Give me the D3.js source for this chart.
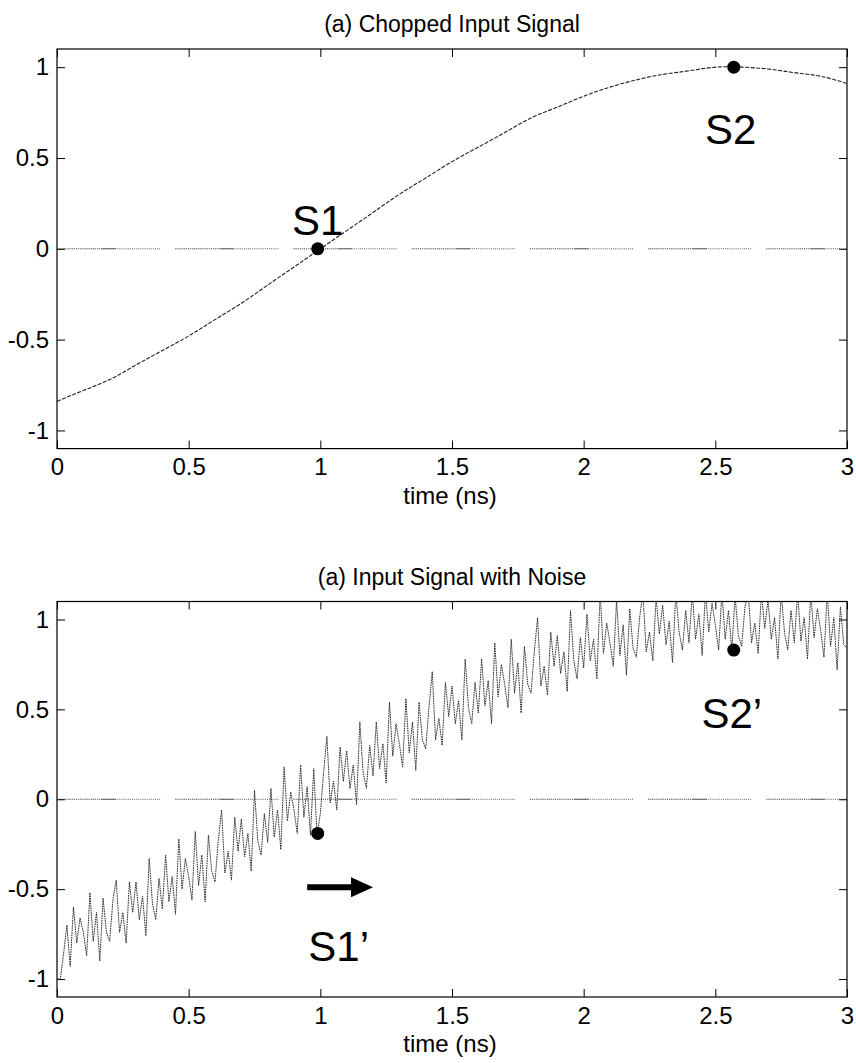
<!DOCTYPE html>
<html>
<head>
<meta charset="utf-8">
<script src="https://cdn.jsdelivr.net/npm/d3@7"></script>
<style>
  body { margin: 0; background: #fff; }
  text { font-family: "Liberation Sans", Arial, Helvetica, sans-serif; fill: #000; }
</style>
</head>
<body>
<svg id="chart" width="856" height="1063"></svg>
<script>
// ---- data ----
const xTicks = [0, 0.5, 1, 1.5, 2, 2.5, 3];
const xTickLabels = ["0", "0.5", "1", "1.5", "2", "2.5", "3"];
const yTicks = [-1, -0.5, 0, 0.5, 1];
const yTickLabels = ["-1", "-0.5", "0", "0.5", "1"];
const titles = ["(a) Chopped Input Signal", "(a) Input Signal with Noise"];
const xLabel = "time (ns)";

// chopped (clean) input signal
const cleanTime = [0, 0.1, 0.2, 0.3, 0.4, 0.5, 0.6, 0.7, 0.8, 0.9, 1.0,
                   1.1, 1.2, 1.3, 1.4, 1.5, 1.6, 1.7, 1.8, 1.9, 2.0,
                   2.1, 2.2, 2.3, 2.4, 2.5, 2.6, 2.7, 2.8, 2.9, 3.0];
const cleanSignal = [-0.84, -0.78, -0.72, -0.64, -0.56, -0.48, -0.39, -0.30, -0.20, -0.10, 0.00,
                     0.10, 0.20, 0.30, 0.39, 0.48, 0.56, 0.64, 0.72, 0.78, 0.84,
                     0.89, 0.93, 0.96, 0.98, 1.00, 1.00, 0.99, 0.97, 0.95, 0.91];

// noisy input signal, sampled every 0.0125 ns from 0 to 3 ns
const noiseStep = 0.0125;
const noisySignal = [
  -1.00, -1.00, -0.86, -0.70, -0.93, -0.60, -0.80, -0.66,
  -0.74, -0.87, -0.52, -0.79, -0.63, -0.90, -0.55, -0.74,
  -0.79, -0.56, -0.45, -0.74, -0.63, -0.80, -0.46, -0.63,
  -0.46, -0.67, -0.54, -0.76, -0.33, -0.58, -0.67, -0.44,
  -0.61, -0.31, -0.57, -0.43, -0.64, -0.22, -0.50, -0.33,
  -0.43, -0.56, -0.18, -0.48, -0.31, -0.57, -0.20, -0.40,
  -0.46, -0.23, -0.06, -0.41, -0.29, -0.45, -0.10, -0.29,
  -0.11, -0.32, -0.19, -0.40, 0.05, -0.23, -0.31, -0.08,
  -0.24, 0.06, -0.21, -0.06, -0.28, 0.18, -0.12, 0.04,
  -0.06, -0.19, 0.19, -0.10, 0.07, -0.20, 0.17, -0.20,
  -0.08, 0.15, 0.35, -0.02, 0.10, -0.06, 0.29, 0.10,
  0.27, 0.06, 0.19, -0.03, 0.43, 0.15, 0.06, 0.30,
  0.13, 0.43, 0.17, 0.31, 0.09, 0.54, 0.24, 0.42,
  0.31, 0.18, 0.56, 0.26, 0.43, 0.16, 0.54, 0.33,
  0.28, 0.51, 0.71, 0.33, 0.45, 0.30, 0.65, 0.46,
  0.63, 0.42, 0.55, 0.33, 0.78, 0.51, 0.42, 0.65,
  0.48, 0.78, 0.52, 0.66, 0.42, 0.87, 0.57, 0.75,
  0.64, 0.51, 0.89, 0.59, 0.76, 0.48, 0.85, 0.64,
  0.59, 0.82, 1.01, 0.63, 0.74, 0.58, 0.93, 0.74,
  0.91, 0.70, 0.82, 0.60, 1.05, 0.77, 0.67, 0.90,
  0.73, 1.03, 0.77, 0.89, 0.67, 1.15, 0.81, 0.98,
  0.87, 0.74, 1.11, 0.80, 0.97, 0.69, 1.06, 0.84,
  0.79, 1.01, 1.15, 0.82, 0.93, 0.77, 1.12, 0.92,
  1.08, 0.86, 0.99, 0.76, 1.15, 0.93, 0.83, 1.05,
  0.87, 1.15, 0.89, 1.03, 0.80, 1.15, 0.93, 1.09,
  0.97, 0.83, 1.15, 0.89, 1.05, 0.83, 1.13, 0.91,
  0.85, 1.07, 1.15, 0.87, 0.98, 0.81, 1.15, 0.95,
  1.11, 0.89, 1.01, 0.78, 1.15, 0.93, 0.83, 1.05,
  0.87, 1.15, 0.88, 1.01, 0.78, 1.15, 0.90, 1.06,
  0.94, 0.79, 1.15, 0.85, 1.01, 0.72, 1.07, 0.86,
  0.84
];

// marked samples
const cleanMarkNames = ["S1", "S2"];
const cleanMarkTime = [0.99, 2.57];
const cleanMarkValue = [0.00, 1.00];
const noisyMarkNames = ["S1\u2019", "S2\u2019"];
const noisyMarkTime = [0.99, 2.57];
const noisyMarkValue = [-0.19, 0.83];

// arrow under S1'
const arrowTime = [0.95, 1.20];
const arrowValue = -0.49;

// ---- layout ----
const svg = d3.select("#chart");
const left = 57, right = 847;
const panels = [
  { top: 49,  bottom: 448.6 },
  { top: 601.5, bottom: 997 }
];
const tickLen = 8;
const fontTick = 24;

// dotted dashes for the zero line: 21 dots, then a gap
const zeroDash = d3.range(21).map(() => "1.2,0.9").join(",") + ",15";

const x = d3.scaleLinear().domain([0, 3]).range([left, right]);

function drawPanel(p, i) {
  const y = d3.scaleLinear().domain([-1.1, 1.1]).range([p.bottom, p.top]);
  const g = svg.append("g");

  const clipId = "clip" + i;
  svg.append("clipPath").attr("id", clipId)
    .append("rect").attr("x", left).attr("y", p.top)
    .attr("width", right - left).attr("height", p.bottom - p.top);

  // zero reference line
  g.append("line")
    .attr("x1", x(0)).attr("x2", x(3))
    .attr("y1", y(0)).attr("y2", y(0))
    .attr("stroke", "#333").attr("stroke-width", 0.9)
    .attr("stroke-dasharray", zeroDash);

  // axes (inward ticks on every side, MATLAB box style)
  const axB = d3.axisBottom(x).tickValues(xTicks).tickSizeInner(-tickLen).tickSizeOuter(0)
    .tickFormat((d, k) => xTickLabels[k]);
  const axT = d3.axisTop(x).tickValues(xTicks).tickSizeInner(-tickLen).tickSizeOuter(0).tickFormat("");
  const axL = d3.axisLeft(y).tickValues(yTicks).tickSizeInner(-tickLen).tickSizeOuter(0)
    .tickFormat((d, k) => yTickLabels[k]).tickPadding(8);
  const axR = d3.axisRight(y).tickValues(yTicks).tickSizeInner(-tickLen).tickSizeOuter(0).tickFormat("");

  const gb = g.append("g").attr("transform", `translate(0,${p.bottom})`).call(axB);
  g.append("g").attr("transform", `translate(0,${p.top})`).call(axT);
  const gl = g.append("g").attr("transform", `translate(${left},0)`).call(axL);
  g.append("g").attr("transform", `translate(${right},0)`).call(axR);

  g.selectAll(".domain").remove();
  g.selectAll(".tick line").attr("stroke", "#000").attr("stroke-width", 1);
  gb.selectAll(".tick text").attr("font-size", fontTick).attr("y", 26.5).attr("dy", 0)
    .style("font-family", "'Liberation Sans', Arial, sans-serif");
  gl.selectAll(".tick text").attr("font-size", fontTick)
    .style("font-family", "'Liberation Sans', Arial, sans-serif");

  g.append("rect")
    .attr("x", left).attr("y", p.top)
    .attr("width", right - left).attr("height", p.bottom - p.top)
    .attr("fill", "none").attr("stroke", "#000").attr("stroke-width", 1.2);

  // title and axis label
  svg.append("text")
    .attr("x", (left + right) / 2).attr("y", p.top - 17)
    .attr("text-anchor", "middle").attr("font-size", 23)
    .text(titles[i]);
  svg.append("text")
    .attr("x", (left + right) / 2 - 2).attr("y", p.bottom + 55)
    .attr("text-anchor", "middle").attr("font-size", 24)
    .text(xLabel);

  return { g, y, clipId };
}

// ---- panel 1: chopped input ----
{
  const { g, y, clipId } = drawPanel(panels[0], 0);
  const line = d3.line().x((d, k) => x(cleanTime[k])).y(d => y(d)).curve(d3.curveNatural);
  g.append("path").datum(cleanSignal)
    .attr("clip-path", `url(#${clipId})`)
    .attr("d", line)
    .attr("fill", "none").attr("stroke", "#222").attr("stroke-width", 1.1)
    .attr("stroke-dasharray", "4,1.5");

  g.selectAll("circle.mark").data(cleanMarkNames).enter().append("circle")
    .attr("cx", (d, k) => x(cleanMarkTime[k]))
    .attr("cy", (d, k) => y(cleanMarkValue[k]))
    .attr("r", 6.5).attr("fill", "#000");

  // S1 above its dot, S2 below its dot
  const labelDx = [0, -3];
  const labelDy = [-14, 77];
  g.selectAll("text.mark").data(cleanMarkNames).enter().append("text")
    .attr("x", (d, k) => x(cleanMarkTime[k]) + labelDx[k])
    .attr("y", (d, k) => y(cleanMarkValue[k]) + labelDy[k])
    .attr("text-anchor", "middle").attr("font-size", 42)
    .text(d => d);
}

// ---- panel 2: input with noise ----
{
  const { g, y, clipId } = drawPanel(panels[1], 1);
  const line = d3.line().x((d, k) => x(k * noiseStep)).y(d => y(d));
  g.append("path").datum(noisySignal)
    .attr("clip-path", `url(#${clipId})`)
    .attr("d", line)
    .attr("fill", "none").attr("stroke", "#222").attr("stroke-width", 0.95)
    .attr("stroke-dasharray", "1.6,0.8");

  g.selectAll("circle.mark").data(noisyMarkNames).enter().append("circle")
    .attr("cx", (d, k) => x(noisyMarkTime[k]))
    .attr("cy", (d, k) => y(noisyMarkValue[k]))
    .attr("r", 6.5).attr("fill", "#000");

  // arrow
  const ax0 = x(arrowTime[0]), ax1 = x(arrowTime[1]), ay = y(arrowValue);
  g.append("line")
    .attr("x1", ax0).attr("x2", ax1 - 16)
    .attr("y1", ay).attr("y2", ay)
    .attr("stroke", "#000").attr("stroke-width", 6);
  g.append("path")
    .attr("d", `M${ax1},${ay} L${ax1 - 22},${ay - 10} L${ax1 - 22},${ay + 10} Z`)
    .attr("fill", "#000");

  const labelDx = [21, -2];
  const labelDy = [128, 78];
  g.selectAll("text.mark").data(noisyMarkNames).enter().append("text")
    .attr("x", (d, k) => x(noisyMarkTime[k]) + labelDx[k])
    .attr("y", (d, k) => y(noisyMarkValue[k]) + labelDy[k])
    .attr("text-anchor", "middle").attr("font-size", 42)
    .text(d => d);
}
</script>
</body>
</html>
